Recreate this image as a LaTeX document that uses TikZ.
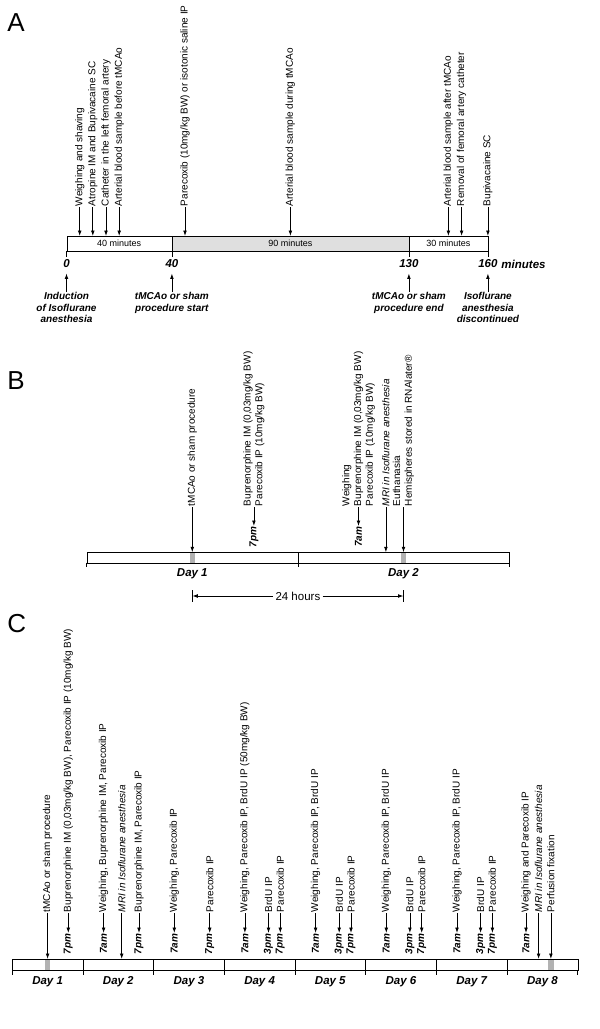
\documentclass[tikz,border=0pt]{standalone}
\usepackage{fontspec}
\setmainfont{Liberation Sans}
\usetikzlibrary{arrows.meta}

\tikzset{
	arr/.style = {-{Latex[length=5.5pt, width=3.8pt]}},
	vlbl/.style = {rotate=90, anchor=west, inner sep=0.5pt, align=left, font=\fontsize{10}{11.7}\selectfont},
	tlbl/.style = {rotate=90, anchor=east, inner sep=0.5pt, font=\fontsize{10}{12}\selectfont\bfseries\itshape},
	blbl/.style = {inner sep=0pt, font=\fontsize{11.5}{13}\selectfont\bfseries\itshape},
	ilbl/.style = {anchor=north, inner sep=0pt, align=center, font=\fontsize{10}{11.6}\selectfont\bfseries\itshape},
	seglbl/.style = {inner sep=0pt, font=\fontsize{9}{10}\selectfont},
	panel/.style = {anchor=west, inner sep=0pt, font=\fontsize{26}{28}\selectfont},
	bar/.style = {draw, anchor=north west, inner sep=0pt},
}

\begin{document}
\begin{tikzpicture}[x=1pt, y=-1pt, line width=0.8pt]
	\useasboundingbox (0,0) rectangle (600,1029);
	% ---------------- A ----------------
	\node[panel] (pa) at (7,23) {A};
	\fill[gray!25] (171.9,236) rectangle (408.9,251);
	\node[bar, minimum width=421.4pt, minimum height=15pt] (barA) at (66.5,236) {};
	\draw (171.9,236) -- (171.9,257);
	\draw (408.9,236) -- (408.9,257);
	\draw (66.5,251) -- (66.5,257);
	\draw (487.9,251) -- (487.9,257);
	\node[seglbl] (s40) at (119.2,243.5) {40 minutes};
	\node[seglbl] (s90) at (290.4,243.5) {90 minutes};
	\node[seglbl] (s30) at (448.4,243.5) {30 minutes};
	% events
	\node[vlbl] (a1) at (79.7,207) {Weighing and shaving};
	\node[vlbl] (a2) at (92.8,207) {Atropine IM and Bupivacaine SC};
	\node[vlbl] (a3) at (106.0,207) {Catheter in the left femoral artery};
	\node[vlbl] (a4) at (119.2,207) {Arterial blood sample before tMCAo};
	\node[vlbl] (a5) at (185.0,207) {Parecoxib (10mg/kg BW) or isotonic saline IP};
	\node[vlbl] (a6) at (290.4,207) {Arterial blood sample during tMCAo};
	\node[vlbl] (a7) at (448.4,207) {Arterial blood sample after tMCAo};
	\node[vlbl] (a8) at (461.6,207) {Removal of femoral artery catheter};
	\node[vlbl] (a9) at (487.9,207) {Bupivacaine SC};
	\foreach \n in {a1,a2,a3,a4,a5,a6,a7,a8,a9} {
		\draw[arr] (\n.west) -- (\n.west |- barA.north);
	}
	% minutes
	\node[blbl] (n0) at (66.5,264) {0};
	\node[blbl] (n40) at (171.9,264) {40};
	\node[blbl] (n130) at (408.9,264) {130};
	\node[blbl] (n160) at (487.9,264) {160};
	\node[blbl, anchor=west] (nmin) at ([xshift=3.2pt]n160.east) {minutes};
	\node[ilbl] (i0) at (66.5,292) {Induction\\of Isoflurane\\anesthesia};
	\node[ilbl] (i40) at (171.9,292) {tMCAo or sham\\procedure start};
	\node[ilbl] (i130) at (408.9,292) {tMCAo or sham\\procedure end};
	\node[ilbl] (i160) at (487.9,292) {Isoflurane\\anesthesia\\discontinued};
	\draw[arr, shorten >=5pt] (i0) -- (n0);
	\draw[arr, shorten >=5pt] (i40) -- (n40);
	\draw[arr, shorten >=5pt] (i130) -- (n130);
	\draw[arr, shorten >=5pt] (i160) -- (n160);
	% ---------------- B ----------------
	\node[panel] (pb) at (7,381) {B};
	\fill[gray!60] (189.7,552.3) rectangle (194.9,562.7);
	\fill[gray!60] (400.9,552.3) rectangle (406.1,562.7);
	\node[bar, minimum width=422.4pt, minimum height=10.4pt] (barB) at (86.7,552.3) {};
	\draw (297.9,552.3) -- (297.9,567);
	\draw (86.7,562.7) -- (86.7,567);
	\draw (509.1,562.7) -- (509.1,567);
	\node[vlbl] (b1) at (192.3,507) {tMCAo or sham procedure};
	\node[vlbl] (b2) at (253.9,507) {Buprenorphine IM (0,03mg/kg BW)\\Parecoxib IP (10mg/kg BW)};
	\node[tlbl] (tb2) at (253.9,526) {7pm};
	\node[vlbl] (b3) at (358.5,507) {Weighing\\Buprenorphine IM (0,03mg/kg BW)\\Parecoxib IP (10mg/kg BW)};
	\node[tlbl] (tb3) at (358.5,526) {7am};
	\node[vlbl] (b4) at (385.9,507) {\textit{MRI in Isoflurane anesthesia}};
	\node[vlbl] (b5) at (403.5,507) {Euthanasia\\Hemispheres stored in RNAlater®};
	\draw[arr] (b1.west) -- (b1.west |- barB.north);
	\draw[arr] (b2.west) -- (tb2.east);
	\draw[arr] (b3.west) -- (tb3.east);
	\draw[arr] (b4.west) -- (b4.west |- barB.north);
	\draw[arr] (b5.west) -- (b5.west |- barB.north);
	\node[blbl] (d1) at (192.3,574) {Day 1};
	\node[blbl] (d2) at (403.5,574) {Day 2};
	\node[fill=white, inner sep=2pt, font=\fontsize{11.5}{13}\selectfont] (h24) at (297.9,596) {24 hours};
	\coordinate (hl) at (192.3,596);
	\coordinate (hr) at (403.5,596);
	\draw[arr] (h24) -- (hl);
	\draw[arr] (h24) -- (hr);
	\draw (192.3,590) -- (192.3,602);
	\draw (403.5,590) -- (403.5,602);
	% ---------------- C ----------------
	\node[panel] (pc) at (7,624) {C};
	\fill[gray!60] (45.0,959) rectangle (50.2,970);
	\fill[gray!60] (548.3,959) rectangle (553.5,970);
	\node[bar, minimum width=565.4pt, minimum height=11pt] (barC) at (12.3,959) {};
	\foreach \s [count=\d] in {12.3,83.0,153.7,224.3,295.0,365.7,436.4,507.1} {
		\draw (\s,959) -- (\s,975);
		\node[blbl] (dc\d) at ({\s+35.3},982) {Day \d};
	}
	\draw (577.7,970) -- (577.7,975);
	% day 1
	\node[vlbl] (c1a) at (47.6,913) {tMCAo or sham procedure};
	\node[vlbl] (c1b) at (68.3,913) {Buprenorphine IM (0,03mg/kg BW), Parecoxib IP (10mg/kg BW)};
	\node[tlbl] (t1b) at (68.3,933) {7pm};
	% day 2
	\node[vlbl] (c2a) at (103.6,913) {Weighing, Buprenorphine IM, Parecoxib IP};
	\node[tlbl] (t2a) at (103.6,933) {7am};
	\node[vlbl] (c2b) at (121.7,913) {\textit{MRI in Isoflurane anesthesia}};
	\node[vlbl] (c2c) at (139.0,913) {Buprenorphine IM, Parecoxib IP};
	\node[tlbl] (t2c) at (139.0,933) {7pm};
	% day 3
	\node[vlbl] (c3a) at (174.3,913) {Weighing, Parecoxib IP};
	\node[tlbl] (t3a) at (174.3,933) {7am};
	\node[vlbl] (c3c) at (209.7,913) {Parecoxib IP};
	\node[tlbl] (t3c) at (209.7,933) {7pm};
	% day 4
	\node[vlbl] (c4a) at (244.9,913) {Weighing, Parecoxib IP, BrdU IP (50mg/kg BW)};
	\node[tlbl] (t4a) at (244.9,933) {7am};
	\node[vlbl] (c4b) at (268.5,913) {BrdU IP};
	\node[tlbl] (t4b) at (268.5,933) {3pm};
	\node[vlbl] (c4c) at (280.3,913) {Parecoxib IP};
	\node[tlbl] (t4c) at (280.3,933) {7pm};
	% day 5 - 7
	\foreach \d/\s in {5/295.0,6/365.7,7/436.4} {
		\node[vlbl] (c\d a) at ({\s+20.6},913) {Weighing, Parecoxib IP, BrdU IP};
		\node[tlbl] (t\d a) at ({\s+20.6},933) {7am};
		\node[vlbl] (c\d b) at ({\s+44.2},913) {BrdU IP};
		\node[tlbl] (t\d b) at ({\s+44.2},933) {3pm};
		\node[vlbl] (c\d c) at ({\s+56.0},913) {Parecoxib IP};
		\node[tlbl] (t\d c) at ({\s+56.0},933) {7pm};
	}
	% day 8
	\node[vlbl] (c8a) at (526.0,913) {Weighing and Parecoxib IP};
	\node[tlbl] (t8a) at (526.0,933) {7am};
	\node[vlbl] (c8b) at (538.6,913) {\textit{MRI in Isoflurane anesthesia}};
	\node[vlbl] (c8c) at (550.9,913) {Perfusion fixation};
	\foreach \n in {1b,2a,2c,3a,3c,4a,4b,4c,5a,5b,5c,6a,6b,6c,7a,7b,7c,8a} {
		\draw[arr] (c\n.west) -- (t\n.east);
	}
	\foreach \n in {1a,2b,8b,8c} {
		\draw[arr] (c\n.west) -- (c\n.west |- barC.north);
	}
\end{tikzpicture}
\end{document}
